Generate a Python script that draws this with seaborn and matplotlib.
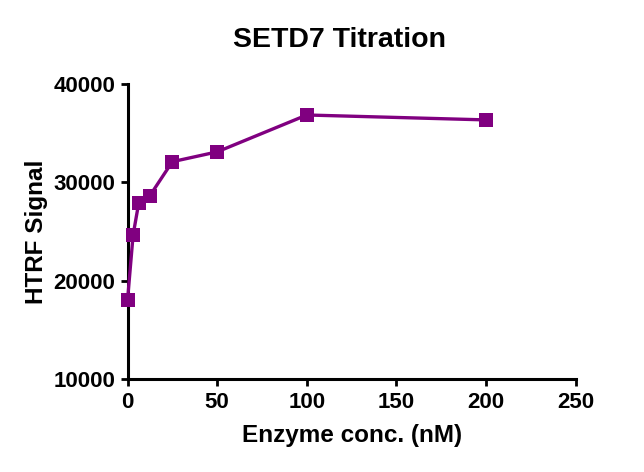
import matplotlib
matplotlib.use('Agg')
import matplotlib.pyplot as plt
import seaborn as sns
import pandas as pd

# Enzyme titration readings
enzyme_nM = [0, 3.125, 6.25, 12.5, 25, 50, 100, 200]
htrf_signal = [18000, 24650, 27900, 28650, 32100, 33100, 36850, 36350]
x_ticks = [0, 50, 100, 150, 200, 250]
y_ticks = [10000, 20000, 30000, 40000]

df = pd.DataFrame({'enzyme': enzyme_nM, 'signal': htrf_signal})

sns.set_style('ticks')
plt.rcParams['font.family'] = ['Liberation Sans', 'DejaVu Sans']
plt.rcParams['text.color'] = 'black'
plt.rcParams['axes.labelcolor'] = 'black'
plt.rcParams['xtick.color'] = 'black'
plt.rcParams['ytick.color'] = 'black'

fig = plt.figure(figsize=(6.44, 4.72), dpi=100)
ax = fig.add_axes([0.198, 0.197, 0.696, 0.625])

sns.lineplot(data=df, x='enzyme', y='signal', ax=ax, color='#800080',
             marker='s', markersize=10, markeredgewidth=0, linewidth=2.4,
             clip_on=False, zorder=3)

ax.set_xlim(0, 250)
ax.set_ylim(10000, 40000)
ax.set_xticks(x_ticks)
ax.set_yticks(y_ticks)
ax.set_xticklabels([str(t) for t in x_ticks], fontsize=16, fontweight='bold')
ax.set_yticklabels([str(t) for t in y_ticks], fontsize=16, fontweight='bold')

for s in ['left', 'bottom']:
    ax.spines[s].set_linewidth(2.2)
    ax.spines[s].set_color('black')
sns.despine(ax=ax)
ax.tick_params(width=2, length=5, pad=4)

ax.set_xlabel('Enzyme conc. (nM)', fontsize=17.5, fontweight='bold', labelpad=8)
ax.set_ylabel('HTRF Signal', fontsize=17.5, fontweight='bold', labelpad=4)
ax.set_title('SETD7 Titration', fontsize=20.5, fontweight='bold', pad=27, x=0.473)

fig.savefig('out.png', dpi=100)
